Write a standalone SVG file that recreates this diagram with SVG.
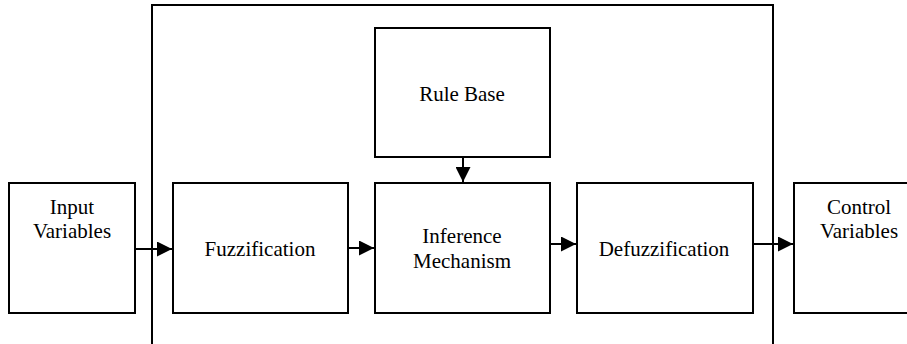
<svg xmlns="http://www.w3.org/2000/svg" width="907" height="344" viewBox="0 0 907 344">
<defs>
<style>
.box{fill:#fff;stroke:#000;stroke-width:2}
.frame{fill:none;stroke:#000;stroke-width:2}
.lbl{font-family:'Liberation Serif','Tinos','Times New Roman','DejaVu Serif',serif;font-size:21px;fill:#000;text-anchor:middle}
.conn{stroke:#000;stroke-width:2;fill:none;marker-end:url(#ah)}
</style>
<marker id="ah" viewBox="0 0 15 15" refX="15" refY="7.5" markerWidth="15" markerHeight="15" markerUnits="userSpaceOnUse" orient="auto">
<path d="M0,0 L15,7.5 L0,15 Z" fill="#000"/>
</marker>
</defs>
<rect width="907" height="344" fill="#fff"/>
<g id="system">
<path class="frame" d="M152,350 L152,5 L773,5 L773,350"/>
</g>
<g id="rulebase">
<rect class="box" x="375" y="28" width="175" height="129"/>
<text class="lbl" x="462" y="101" font-family="Liberation Serif, serif">Rule Base</text>
</g>
<g id="input">
<rect class="box" x="9" y="183" width="126" height="130"/>
<text class="lbl" x="72" y="214">Input</text>
<text class="lbl" x="72" y="238">Variables</text>
</g>
<g id="fuzzification">
<rect class="box" x="173" y="183" width="175" height="130"/>
<text class="lbl" x="260" y="256">Fuzzification</text>
</g>
<g id="inference">
<rect class="box" x="375" y="183" width="175" height="130"/>
<text class="lbl" x="462" y="243">Inference</text>
<text class="lbl" x="462" y="268">Mechanism</text>
</g>
<g id="defuzzification">
<rect class="box" x="577" y="183" width="176" height="130"/>
<text class="lbl" x="664" y="256">Defuzzification</text>
</g>
<g id="control">
<rect class="box" x="794" y="183" width="120" height="130"/>
<text class="lbl" x="859" y="214">Control</text>
<text class="lbl" x="859" y="238">Variables</text>
</g>
<g id="connectors">
<line class="conn" x1="135" y1="249" x2="172" y2="249"/>
<line class="conn" x1="348" y1="248" x2="374" y2="248"/>
<line class="conn" x1="550" y1="244" x2="576" y2="244"/>
<line class="conn" x1="753" y1="244" x2="793" y2="244"/>
<line class="conn" x1="463" y1="157" x2="463" y2="182"/>
</g>
</svg>
